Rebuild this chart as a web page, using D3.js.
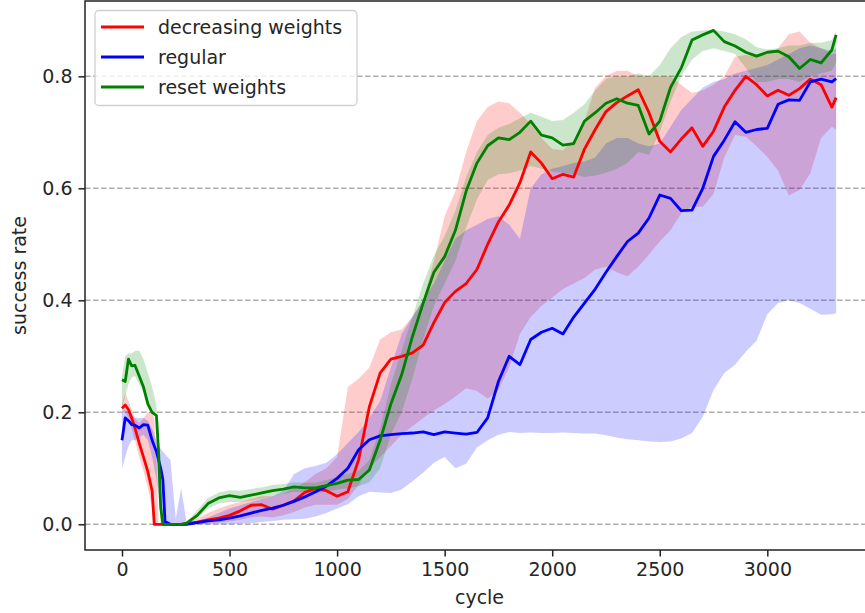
<!DOCTYPE html>
<html><head><meta charset="utf-8">
<script src="https://cdn.jsdelivr.net/npm/d3@7"></script>
<style>html,body{margin:0;padding:0;background:#fff;}svg{display:block;font-family:"DejaVu Sans",sans-serif;}</style>
</head><body><svg id="chart" width="865" height="613"></svg>
<script>
const cycles = [0,15,30,45,60,80,100,120,140,150,160,170,180,190,200,225,250,275,300,350,400,450,500,550,600,650,700,750,800,850,900,950,1000,1050,1100,1150,1200,1250,1300,1350,1400,1450,1500,1550,1600,1650,1700,1750,1800,1850,1900,1950,2000,2050,2100,2150,2200,2250,2300,2350,2400,2450,2500,2550,2600,2650,2700,2750,2800,2850,2900,2950,3000,3050,3100,3150,3200,3250,3300,3320];

const redMean = [0.207,0.213,0.205,0.19,0.172,0.145,0.12,0.094,0.06,0.0,
 0,0,0,0,0,0,0,0,0.001,
 0.004,0.008,0.011,0.016,0.024,0.034,0.035,0.027,0.034,0.042,
 0.057,0.064,0.06,0.05,0.058,0.115,0.21,0.27,0.295,0.3,
 0.306,0.32,0.36,0.396,0.416,0.43,0.455,0.5,0.54,0.57,
 0.61,0.665,0.645,0.617,0.625,0.62,0.67,0.705,0.737,0.753,
 0.765,0.776,0.735,0.684,0.665,0.688,0.708,0.675,0.702,0.745,
 0.775,0.8,0.785,0.765,0.775,0.766,0.778,0.795,0.785,0.745,
 0.762];
const redUpper = [0.215,0.235,0.22,0.205,0.19,0.18,0.19,0.2,0.2,0.19,
 0.12,0,0,0,0,0,0,0,0.003,
 0.01,0.02,0.028,0.035,0.04,0.045,0.05,0.05,0.055,0.065,
 0.075,0.09,0.1,0.12,0.245,0.26,0.28,0.33,0.343,0.348,
 0.37,0.4,0.47,0.55,0.595,0.665,0.72,0.745,0.755,0.752,
 0.735,0.715,0.69,0.67,0.668,0.686,0.72,0.78,0.8,0.81,
 0.81,0.8,0.8,0.8,0.8,0.785,0.77,0.775,0.785,0.8,
 0.835,0.838,0.835,0.84,0.85,0.875,0.88,0.86,0.85,0.84,
 0.84];
const redLower = [0.2,0.2,0.19,0.17,0.15,0.12,0.095,0.065,0.03,0,
 0,0,0,0,0,0,0,0,0,
 0,0.001,0.003,0.005,0.008,0.012,0.014,0.012,0.016,0.022,
 0.03,0.035,0.035,0.035,0.045,0.07,0.1,0.12,0.14,0.16,
 0.175,0.19,0.203,0.215,0.228,0.243,0.238,0.224,0.24,0.28,
 0.34,0.37,0.39,0.405,0.42,0.43,0.44,0.455,0.46,0.45,
 0.443,0.46,0.482,0.505,0.525,0.555,0.567,0.567,0.59,0.655,
 0.695,0.692,0.675,0.656,0.632,0.587,0.597,0.627,0.69,0.71,
 0.705];

const blueMean = [0.15,0.19,0.185,0.178,0.177,0.172,0.178,0.177,0.15,0.14,
 0.13,0.115,0.1,0.08,0.005,0,0,0,0,
 0.003,0.006,0.008,0.011,0.015,0.02,0.025,0.029,0.034,0.041,
 0.049,0.058,0.068,0.082,0.1,0.133,0.151,0.158,0.16,0.162,
 0.163,0.165,0.16,0.165,0.163,0.161,0.164,0.19,0.255,0.3,
 0.285,0.33,0.343,0.35,0.34,0.37,0.395,0.42,0.45,0.478,
 0.505,0.52,0.547,0.588,0.582,0.56,0.561,0.6,0.657,0.686,
 0.719,0.7,0.705,0.707,0.75,0.758,0.757,0.79,0.795,0.79,
 0.796];
const blueUpper = [0.2,0.205,0.2,0.195,0.19,0.19,0.19,0.185,0.17,0.16,
 0.15,0.14,0.135,0.13,0.125,0.115,0.01,0.065,0.003,
 0.006,0.012,0.02,0.028,0.034,0.04,0.045,0.05,0.06,0.09,
 0.1,0.104,0.11,0.125,0.145,0.165,0.19,0.22,0.28,0.34,
 0.37,0.4,0.43,0.47,0.51,0.525,0.535,0.545,0.55,0.535,
 0.51,0.6,0.625,0.635,0.64,0.645,0.648,0.655,0.68,0.69,
 0.69,0.68,0.675,0.68,0.71,0.74,0.76,0.78,0.79,0.795,
 0.805,0.81,0.815,0.82,0.83,0.84,0.85,0.855,0.85,0.845,
 0.85];
const blueLower = [0.1,0.12,0.14,0.15,0.15,0.155,0.16,0.15,0.12,0.1,
 0.08,0.05,0.02,0,0,0,0,0,0,
 0,0,0,0,0.001,0.002,0.004,0.006,0.008,0.009,
 0.01,0.014,0.02,0.028,0.036,0.05,0.058,0.057,0.056,0.062,
 0.077,0.092,0.11,0.12,0.1,0.108,0.137,0.15,0.16,0.165,
 0.163,0.164,0.163,0.163,0.164,0.163,0.162,0.162,0.159,0.155,
 0.152,0.15,0.148,0.147,0.148,0.153,0.163,0.192,0.24,0.27,
 0.285,0.308,0.328,0.375,0.395,0.4,0.395,0.385,0.374,0.375,
 0.377];

const greenMean = [0.258,0.255,0.295,0.283,0.284,0.265,0.245,0.215,0.2,0.197,
 0.194,0.13,0.03,0,0,0,0,0,0.002,
 0.016,0.037,0.047,0.051,0.048,0.052,0.056,0.06,0.063,0.067,
 0.065,0.065,0.069,0.073,0.079,0.08,0.097,0.15,0.215,0.267,
 0.335,0.395,0.45,0.478,0.525,0.595,0.645,0.676,0.69,0.687,
 0.7,0.72,0.695,0.69,0.677,0.68,0.72,0.735,0.752,0.76,
 0.752,0.748,0.697,0.72,0.78,0.815,0.865,0.874,0.882,0.862,
 0.854,0.843,0.836,0.843,0.845,0.835,0.814,0.83,0.824,0.847,
 0.874];
const greenUpper = [0.265,0.3,0.305,0.305,0.31,0.31,0.295,0.27,0.245,0.23,
 0.21,0.18,0.05,0,0,0,0,0,0.004,
 0.025,0.047,0.057,0.061,0.06,0.063,0.066,0.07,0.072,0.075,
 0.074,0.074,0.079,0.085,0.09,0.095,0.115,0.17,0.25,0.31,
 0.37,0.43,0.48,0.515,0.56,0.62,0.665,0.695,0.708,0.715,
 0.725,0.735,0.728,0.72,0.722,0.735,0.75,0.775,0.795,0.8,
 0.8,0.805,0.8,0.82,0.85,0.87,0.88,0.882,0.883,0.88,
 0.875,0.866,0.852,0.848,0.85,0.855,0.855,0.86,0.86,0.865,
 0.88];
const greenLower = [0.207,0.23,0.25,0.262,0.265,0.25,0.235,0.215,0.2,0.196,
 0.19,0.08,0,0,0,0,0,0,0,
 0.01,0.028,0.037,0.04,0.04,0.042,0.046,0.05,0.054,0.058,
 0.057,0.056,0.058,0.062,0.065,0.068,0.075,0.1,0.16,0.2,
 0.26,0.33,0.39,0.43,0.47,0.53,0.58,0.615,0.625,0.627,
 0.632,0.64,0.635,0.63,0.628,0.625,0.62,0.623,0.628,0.635,
 0.645,0.665,0.66,0.7,0.755,0.8,0.83,0.845,0.85,0.845,
 0.84,0.815,0.79,0.79,0.795,0.795,0.79,0.8,0.805,0.81,
 0.825];

const seriesNames = ["decreasing weights","regular","reset weights"];
const seriesColors = ["#ff0000","#0000ff","#008000"];
const xTicks = [0,500,1000,1500,2000,2500,3000];
const yTicks = [0.0,0.2,0.4,0.6,0.8];
const xLabel = "cycle", yLabel = "success rate";

const series = [
  {name:seriesNames[0], color:seriesColors[0], mean:redMean, lo:redLower, hi:redUpper},
  {name:seriesNames[1], color:seriesColors[1], mean:blueMean, lo:blueLower, hi:blueUpper},
  {name:seriesNames[2], color:seriesColors[2], mean:greenMean, lo:greenLower, hi:greenUpper}
];

const L=85, R=874, T=1, B=550;
const svg = d3.select("#chart");
const x = d3.scaleLinear().domain([-172, 3496]).range([L, R]);
const y = d3.scaleLinear().domain([-0.0459, 0.9345]).range([B, T]);
const FS = 19;

svg.append("defs").append("clipPath").attr("id","clip")
  .append("rect").attr("x",L).attr("y",T).attr("width",R-L).attr("height",B-T);

// grid
svg.append("g").selectAll("line").data(yTicks).join("line")
  .attr("x1",L).attr("x2",R).attr("y1",d=>y(d)).attr("y2",d=>y(d))
  .attr("stroke","#b0b0b0").attr("stroke-width",1.4).attr("stroke-dasharray","5.6,2.4");

const plot = svg.append("g").attr("clip-path","url(#clip)");
const idx = d3.range(cycles.length);
series.forEach(s=>{
  const area = d3.area().x(i=>x(cycles[i])).y0(i=>y(s.lo[i])).y1(i=>y(s.hi[i]));
  plot.append("path").attr("d",area(idx)).attr("fill",s.color).attr("fill-opacity",0.2).attr("stroke","none");
});
series.forEach(s=>{
  const line = d3.line().x(i=>x(cycles[i])).y(i=>y(s.mean[i]));
  plot.append("path").attr("d",line(idx)).attr("fill","none").attr("stroke",s.color)
    .attr("stroke-width",2.8).attr("stroke-linejoin","round").attr("stroke-linecap","butt");
});

// axes
const xAxis = svg.append("g").attr("transform",`translate(0,${B})`)
  .call(d3.axisBottom(x).tickValues(xTicks).tickFormat(d3.format("d")).tickSize(6.5).tickPadding(6));
const yAxis = svg.append("g").attr("transform",`translate(${L},0)`)
  .call(d3.axisLeft(y).tickValues(yTicks).tickFormat(d3.format(".1f")).tickSize(6.5).tickPadding(6));
[xAxis,yAxis].forEach(a=>{
  a.select(".domain").remove();
  a.selectAll("line").attr("stroke","#222").attr("stroke-width",1.5);
  a.selectAll("text").attr("font-size",FS).attr("fill","#262626").attr("font-family","DejaVu Sans");
});
// spines
svg.append("rect").attr("x",L).attr("y",T).attr("width",R-L).attr("height",B-T)
  .attr("fill","none").attr("stroke","#222").attr("stroke-width",1.5);

// labels
svg.append("text").attr("x",(L+R)/2).attr("y",604).attr("text-anchor","middle")
  .attr("font-size",FS).attr("fill","#262626").text(xLabel);
svg.append("text").attr("transform",`translate(26,${(T+B)/2}) rotate(-90)`).attr("text-anchor","middle")
  .attr("font-size",FS).attr("fill","#262626").text(yLabel);

// legend
const lg = svg.append("g");
lg.append("rect").attr("x",95).attr("y",10.5).attr("width",262).attr("height",95).attr("rx",4)
  .attr("fill","#fff").attr("fill-opacity",0.8).attr("stroke","#d0d0d0").attr("stroke-width",1.3);
series.forEach((s,i)=>{
  const yy = 27 + i*30;
  lg.append("line").attr("x1",101).attr("x2",144).attr("y1",yy).attr("y2",yy)
    .attr("stroke",s.color).attr("stroke-width",2.8);
  lg.append("text").attr("x",158).attr("y",yy).attr("dy","0.35em").attr("font-size",FS)
    .attr("fill","#262626").text(s.name);
});
</script></body></html>
